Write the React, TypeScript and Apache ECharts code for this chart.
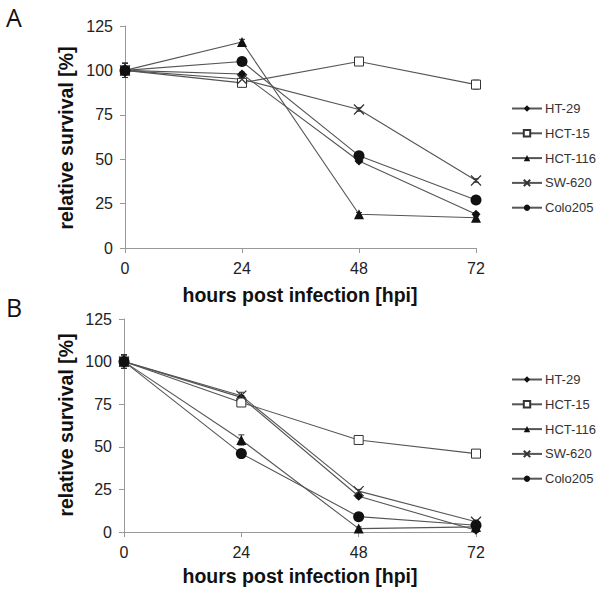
import React, { useEffect, useRef } from "react";
import * as echarts from "echarts";

const hours = [0, 24, 48, 72];
const cellLines = ["HT-29", "HCT-15", "HCT-116", "SW-620", "Colo205"];
const yTicks = [0, 25, 50, 75, 100, 125];

// Panel A
const aHT29 = [100, 98, 49, 19];
const aHCT15 = [100, 93, 105, 92];
const aHCT116 = [100, 116, 19, 17];
const aSW620 = [100, 95, 78, 38];
const aColo205 = [100, 105, 52, 27];
const aErrHT29 = [4, 1, 1, 1];
const aErrHCT15 = [4, 2, 1.5, 2.5];
const aErrHCT116 = [4, 1.5, 1, 1];
const aErrSW620 = [4, 1, 1, 1];
const aErrColo205 = [4, 1, 1, 1];

// Panel B
const bHT29 = [100, 79, 21, 1];
const bHCT15 = [100, 76, 54, 46];
const bHCT116 = [100, 54, 2, 3];
const bSW620 = [100, 80, 24, 6];
const bColo205 = [100, 46, 9, 4];
const bErrHT29 = [4, 1, 1, 1];
const bErrHCT15 = [4, 1.5, 1.5, 1.5];
const bErrHCT116 = [4, 3, 1, 1];
const bErrSW620 = [4, 2, 1, 1];
const bErrColo205 = [4, 1.5, 1, 1];

const panelA = [aHT29, aHCT15, aHCT116, aSW620, aColo205];
const panelB = [bHT29, bHCT15, bHCT116, bSW620, bColo205];
const errA = [aErrHT29, aErrHCT15, aErrHCT116, aErrSW620, aErrColo205];
const errB = [bErrHT29, bErrHCT15, bErrHCT116, bErrSW620, bErrColo205];

const FONT = "'Liberation Sans', Arial, sans-serif";
const LINE = "#555";
const MARK = "#111";

const symbols: any[] = [
  { symbol: "diamond", size: 9, style: { color: MARK } },
  { symbol: "rect", size: 9, style: { color: "#fff", borderColor: "#333", borderWidth: 1 } },
  { symbol: "triangle", size: 10, style: { color: MARK } },
  {
    symbol: "path://M0,0L10,10M10,0L0,10",
    size: 10,
    style: { color: "rgba(0,0,0,0)", borderColor: "#333", borderWidth: 1.2 },
  },
  { symbol: "circle", size: 11, style: { color: MARK } },
];

export default function App() {
  const ref = useRef<HTMLDivElement>(null);
  useEffect(() => {
    if (!ref.current) return;
    const chart = echarts.init(ref.current, null, { renderer: "svg" });

    const grids = [
      { left: 125, top: 26, width: 351, height: 222 },
      { left: 124, top: 319, width: 352, height: 213 },
    ];

    const xAxes = grids.map((_, i) => ({
      type: "value",
      gridIndex: i,
      min: 0,
      max: 72,
      interval: 24,
      axisLine: { lineStyle: { color: "#999", width: 1 } },
      axisTick: { show: true, length: 5, lineStyle: { color: "#999" } },
      axisLabel: { fontFamily: FONT, fontSize: 16, color: "#222", margin: 12 },
      splitLine: { show: false },
    }));
    const yAxes = grids.map((_, i) => ({
      type: "value",
      gridIndex: i,
      min: yTicks[0],
      max: yTicks[yTicks.length - 1],
      interval: 25,
      axisLine: { show: true, lineStyle: { color: "#999", width: 1 } },
      axisTick: { show: true, length: 5, lineStyle: { color: "#999" } },
      axisLabel: { fontFamily: FONT, fontSize: 16, color: "#222", margin: 12 },
      splitLine: { show: false },
    }));

    const series: any[] = [];
    [errA, errB].forEach((errs, gi) => {
      const vals = gi === 0 ? panelA : panelB;
      errs.forEach((err, si) => {
        series.push({
          type: "custom",
          xAxisIndex: gi,
          yAxisIndex: gi,
          z: 1,
          silent: true,
          data: hours.map((h, j) => [h, vals[si][j], err[j]]),
          renderItem: (params: any, api: any) => {
            const x = api.value(0);
            const v = api.value(1);
            const e = api.value(2);
            const top = api.coord([x, v + e]);
            const bot = api.coord([x, v - e]);
            const st = { stroke: "#333", lineWidth: 1 };
            return {
              type: "group",
              children: [
                { type: "line", shape: { x1: top[0], y1: top[1], x2: bot[0], y2: bot[1] }, style: st },
                { type: "line", shape: { x1: top[0] - 3, y1: top[1], x2: top[0] + 3, y2: top[1] }, style: st },
                { type: "line", shape: { x1: bot[0] - 3, y1: bot[1], x2: bot[0] + 3, y2: bot[1] }, style: st },
              ],
            };
          },
        });
      });
      vals.forEach((arr, si) => {
        series.push({
          type: "line",
          name: cellLines[si],
          xAxisIndex: gi,
          yAxisIndex: gi,
          z: 2,
          data: hours.map((h, j) => [h, arr[j]]),
          symbol: symbols[si].symbol,
          symbolSize: symbols[si].size,
          itemStyle: symbols[si].style,
          lineStyle: { color: LINE, width: 1.1 },
        });
      });
    });

    const legendBase = {
      data: cellLines,
      orient: "vertical",
      left: 511,
      padding: 0,
      itemWidth: 30,
      itemHeight: 8,
      itemGap: 11.8,
      selectedMode: false,
      textStyle: { fontFamily: FONT, fontSize: 13, lineHeight: 12, color: "#333", padding: [0, 0, 0, -2] },
    };

    chart.setOption({
      animation: false,
      backgroundColor: "#fff",
      grid: grids,
      xAxis: xAxes,
      yAxis: yAxes,
      legend: [
        { ...legendBase, top: 102 },
        { ...legendBase, top: 373 },
      ],
      series,
      graphic: [
        { type: "text", left: 6, top: 4, style: { text: "A", font: "25px 'Open Sans', sans-serif", fill: "#111" } },
        { type: "text", left: 6, top: 294, style: { text: "B", font: "25px 'Open Sans', sans-serif", fill: "#111" } },
        {
          type: "text", x: 300, y: 295,
          style: { text: "hours post infection [hpi]", font: `bold 19.5px ${FONT}`, fill: "#111", align: "center", verticalAlign: "middle" },
        },
        {
          type: "text", x: 300, y: 576,
          style: { text: "hours post infection [hpi]", font: `bold 19.5px ${FONT}`, fill: "#111", align: "center", verticalAlign: "middle" },
        },
        {
          type: "text", x: 66, y: 138, rotation: Math.PI / 2,
          style: { text: "relative survival [%]", font: `bold 19.5px ${FONT}`, fill: "#111", align: "center", verticalAlign: "middle" },
        },
        {
          type: "text", x: 66, y: 425, rotation: Math.PI / 2,
          style: { text: "relative survival [%]", font: `bold 19.5px ${FONT}`, fill: "#111", align: "center", verticalAlign: "middle" },
        },
      ],
    });
    return () => chart.dispose();
  }, []);
  return <div ref={ref} style={{ position: "fixed", left: 0, top: 0, width: 600, height: 594 }} />;
}
